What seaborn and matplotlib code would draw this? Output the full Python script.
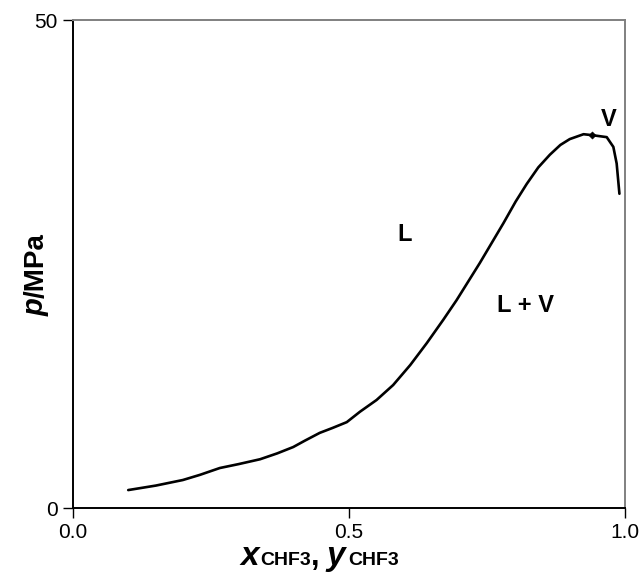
import matplotlib
matplotlib.use("Agg")
import matplotlib.pyplot as plt
import seaborn as sns
import pandas as pd

# phase boundary (mole fraction CHF3, pressure in MPa)
x_chf3 = [0.10, 0.15, 0.199, 0.23, 0.266, 0.30, 0.339, 0.37, 0.399, 0.42,
          0.447, 0.47, 0.496, 0.520, 0.550, 0.580, 0.611, 0.641, 0.671,
          0.695, 0.737, 0.780, 0.802, 0.822, 0.843, 0.864, 0.883, 0.900,
          0.925, 0.941, 0.967, 0.979, 0.985, 0.990]
p_mpa = [1.84, 2.3, 2.87, 3.4, 4.1, 4.5, 5.0, 5.6, 6.25, 6.9,
         7.7, 8.2, 8.8, 9.87, 11.07, 12.6, 14.65, 16.9, 19.3,
         21.3, 25.1, 29.2, 31.4, 33.2, 34.9, 36.2, 37.2, 37.8,
         38.3, 38.2, 38.0, 37.0, 35.3, 32.2]
crit_x = [0.941]
crit_p = [38.2]

region_labels = ["L", "L + V", "V"]
region_x = [0.60, 0.819, 0.97]
region_p = [28.0, 20.7, 39.8]

xticks = [0.0, 0.5, 1.0]
xticklabels = ["0.0", "0.5", "1.0"]
yticks = [0, 50]

sns.set_theme(style="white")
plt.rcParams["font.family"] = ["Liberation Sans", "DejaVu Sans"]
plt.rcParams["text.color"] = "black"

fig = plt.figure(figsize=(6.44, 5.82), dpi=100)
ax = fig.add_axes([0.1134, 0.1271, 0.857, 0.8385])

df = pd.DataFrame({"x": x_chf3, "p": p_mpa})
sns.lineplot(data=df, x="x", y="p", sort=False, color="black", lw=1.9, ax=ax,
             solid_joinstyle="round", solid_capstyle="round")
sns.scatterplot(x=crit_x, y=crit_p, marker="D", s=14, color="black",
                edgecolor="black", ax=ax, zorder=5)

for lab, lx, ly in zip(region_labels, region_x, region_p):
    ax.text(lx, ly, lab, fontsize=17, fontweight="bold", ha="center", va="center",
            color="black")

ax.set_xlim(0, 1)
ax.set_ylim(0, 50)
ax.set_xticks(xticks)
ax.set_xticklabels(xticklabels)
ax.set_yticks(yticks)
ax.tick_params(axis="both", which="major", direction="out", length=7, width=1,
               labelsize=15, colors="black", pad=4, bottom=True, left=True)
ax.set_xlabel("")
ax.set_ylabel("")

for side in ["left", "bottom"]:
    ax.spines[side].set_color("black")
    ax.spines[side].set_linewidth(1.4)
for side in ["top", "right"]:
    ax.spines[side].set_color("#808080")
    ax.spines[side].set_linewidth(1.4)

# x axis label built from pieces (big italic symbol, smaller subscript text)
base = 0.029
fig.text(240 / 644, base, "x", fontsize=24, fontweight="bold", style="italic", va="baseline")
fig.text(260 / 644, base, "CHF3", fontsize=14, fontweight="bold", va="baseline")
fig.text(311 / 644, base, ",", fontsize=22, fontweight="bold", va="baseline")
fig.text(326 / 644, base, "y", fontsize=24, fontweight="bold", style="italic", va="baseline")
fig.text(348 / 644, base, "CHF3", fontsize=14, fontweight="bold", va="baseline")

# y axis label: italic p, then /MPa stacked right after it
p_txt = fig.text(50 / 644, 1 - 316 / 582, "p", fontsize=21, fontweight="bold",
                 style="italic", rotation=90, ha="right", va="bottom")
ax.annotate("/MPa", xy=(1, 1), xycoords=p_txt, fontsize=20, fontweight="bold",
            rotation=90, ha="right", va="bottom", annotation_clip=False)

fig.savefig("out.png", dpi=100)
